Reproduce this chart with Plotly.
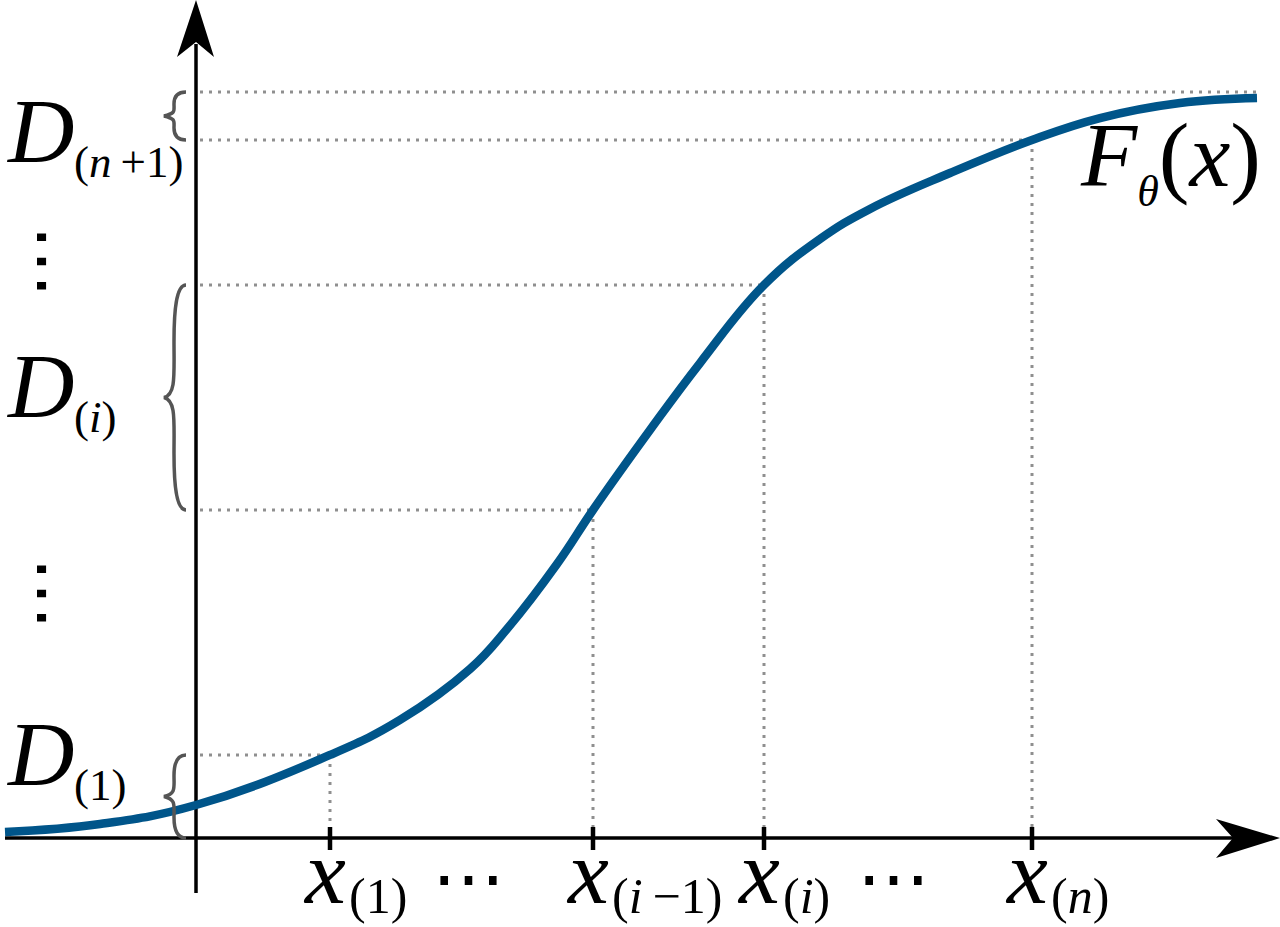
import plotly.graph_objects as go

# ---------------- data ----------------
# x in axis units, F in [0, 1]
curve_x = [-1.91, -0.96, 0.00, 1.34, 2.04, 2.74, 3.11, 3.61, 3.97, 4.54,
           5.04, 5.68, 6.24, 6.74, 7.54, 8.36, 9.04, 9.84, 10.61]
curve_F = [0.0080, 0.0188, 0.0442, 0.1113, 0.1582, 0.2265, 0.2802, 0.3673,
           0.4397, 0.5469, 0.6367, 0.7413, 0.8029, 0.8432, 0.8914, 0.9357,
           0.9651, 0.9853, 0.9920]

sample_x = [1.34, 3.97, 5.68, 8.36]          # x_(1), x_(i-1), x_(i), x_(n)
sample_F = [0.1113, 0.4397, 0.7413, 0.9357]  # F at those points
top_F = 1.0

x_sub_labels = ["(1)", "(<i>i</i>\u2009\u22121)", "(<i>i</i>)", "(<i>n</i>)"]
D_intervals = [(0.0, 0.1113), (0.4397, 0.7413), (0.9357, 1.0)]
D_sub_labels = ["(1)", "(<i>i</i>)", "(<i>n</i>\u2009+1)"]

# ---------------- geometry helpers ----------------
W, H = 1280, 927
OX, OY = 196, 838      # origin in pixels
SX, SY = 100.0, 746.0  # pixels per unit


def X(px):
    return (px - OX) / SX


def Y(py):
    return (OY - py) / SY


def PX(x):
    return OX + x * SX


def PY(f):
    return OY - f * SY


BLUE = "#00558a"
GRAY = "#8f8f8f"
BRACE = "#555555"
SERIF = "Liberation Serif, Tinos, Times New Roman, DejaVu Serif, serif"

fig = go.Figure()

# dotted guide lines
gx, gy = [], []
for sx, sf in zip(sample_x, sample_F):
    gx += [X(200), sx, None, sx, sx, None]
    gy += [sf, sf, None, sf, Y(829), None]
gx += [X(200), curve_x[-1], None]
gy += [top_F, top_F, None]
fig.add_trace(go.Scatter(x=gx, y=gy, mode="lines", hoverinfo="skip",
                         line=dict(color=GRAY, width=3, dash="3px,6px")))

# the CDF curve
fig.add_trace(go.Scatter(x=curve_x, y=curve_F, mode="lines", hoverinfo="skip",
                         line=dict(color=BLUE, width=8.5, shape="spline", smoothing=1.2)))

shapes = []
# axes
shapes.append(dict(type="line", xref="x", yref="y", x0=X(5), x1=X(1236), y0=0, y1=0,
                   line=dict(color="black", width=3.5), layer="below"))
shapes.append(dict(type="line", xref="x", yref="y", x0=0, x1=0, y0=Y(893), y1=Y(44),
                   line=dict(color="black", width=3.5), layer="below"))


def P(a, b):
    return f"{X(a):.5f},{Y(b):.5f}"


# arrowheads
shapes.append(dict(type="path", xref="x", yref="y", fillcolor="black", line=dict(width=0),
                   path=f"M {P(OX, 0)} L {P(OX - 19, 57)} L {P(OX, 42)} L {P(OX + 18, 57)} Z"))
shapes.append(dict(type="path", xref="x", yref="y", fillcolor="black", line=dict(width=0),
                   path=f"M {P(1280, OY)} L {P(1216, OY - 19)} L {P(1233, OY)} L {P(1216, OY + 20)} Z"))

# ticks
for sx in sample_x:
    shapes.append(dict(type="line", xref="x", yref="y", x0=sx, x1=sx, y0=Y(827), y1=Y(850),
                       line=dict(color="black", width=4.5)))

# braces
for lo, hi in D_intervals:
    yt, yb = PY(hi), PY(lo)
    ym = (yt + yb) / 2
    h = yb - yt
    xr, xs, xt = 186, 174, 164
    d = (f"M {P(xr, yt)} "
         f"C {P(xs + 2, yt)} {P(xs, yt + 0.12 * h)} {P(xs, yt + 0.25 * h)} "
         f"C {P(xs, ym - 0.1 * h)} {P(xs + 2, ym - 3)} {P(xt, ym)} "
         f"C {P(xs + 2, ym + 3)} {P(xs, ym + 0.1 * h)} {P(xs, yb - 0.25 * h)} "
         f"C {P(xs, yb - 0.12 * h)} {P(xs + 2, yb)} {P(xr, yb)}")
    shapes.append(dict(type="path", xref="x", yref="y", path=d,
                       line=dict(color=BRACE, width=3.5), layer="above"))

annotations = []


def txt(text, px, base, size, family=SERIF, anchor="left", asc=0.3375):
    annotations.append(dict(x=X(px), y=Y(base - asc * size), xref="x", yref="y", text=text,
                            showarrow=False, xanchor=anchor, yanchor="middle", borderpad=0,
                            font=dict(family=family, size=size, color="black")))


MAIN, SUB, DSUB = 92, 50, 45
# D labels
D_bases = [(785, 800), (417, 432), (162, 177)]
for (bm, bs), lab in zip(D_bases, D_sub_labels):
    txt("<i>D</i>", 5, bm, MAIN)
    txt(lab, 73, bs, DSUB)

# x labels
for sx, lab in zip(sample_x, x_sub_labels):
    p = PX(sx)
    txt("<i>x</i>", p - 28, 903, MAIN)
    txt(lab, p + 18, 913, SUB)

# F_theta(x) as one label with a small lowered theta
annotations.append(dict(
    x=X(1262), y=Y(160), xref="x", yref="y",
    text="<i>F</i><span style='font-size:44px;baseline-shift:-20px'><i>\u03b8</i></span>(<i>x</i>)",
    showarrow=False, xanchor="right", yanchor="middle", borderpad=0,
    font=dict(family=SERIF, size=MAIN, color="black")))

# ellipses
for cx in (468, 893):
    annotations.append(dict(x=X(cx), y=Y(880 - 21), xref="x", yref="y", text="\u2026",
                            showarrow=False, xanchor="center", yanchor="middle", borderpad=0,
                            font=dict(family="DejaVu Sans", size=73, color="black")))
for cy in (261, 593):
    annotations.append(dict(x=X(42 + 21), y=Y(cy), xref="x", yref="y", text="\u2026",
                            showarrow=False, xanchor="center", yanchor="middle", borderpad=0,
                            textangle=90,
                            font=dict(family="DejaVu Sans", size=73, color="black")))

fig.update_layout(
    width=W, height=H,
    margin=dict(l=0, r=0, t=0, b=0),
    paper_bgcolor="white", plot_bgcolor="white",
    showlegend=False,
    xaxis=dict(range=[X(0), X(W)], visible=False, fixedrange=True),
    yaxis=dict(range=[Y(H), Y(0)], visible=False, fixedrange=True),
    shapes=shapes,
    annotations=annotations,
)

fig.write_html("out.html")
